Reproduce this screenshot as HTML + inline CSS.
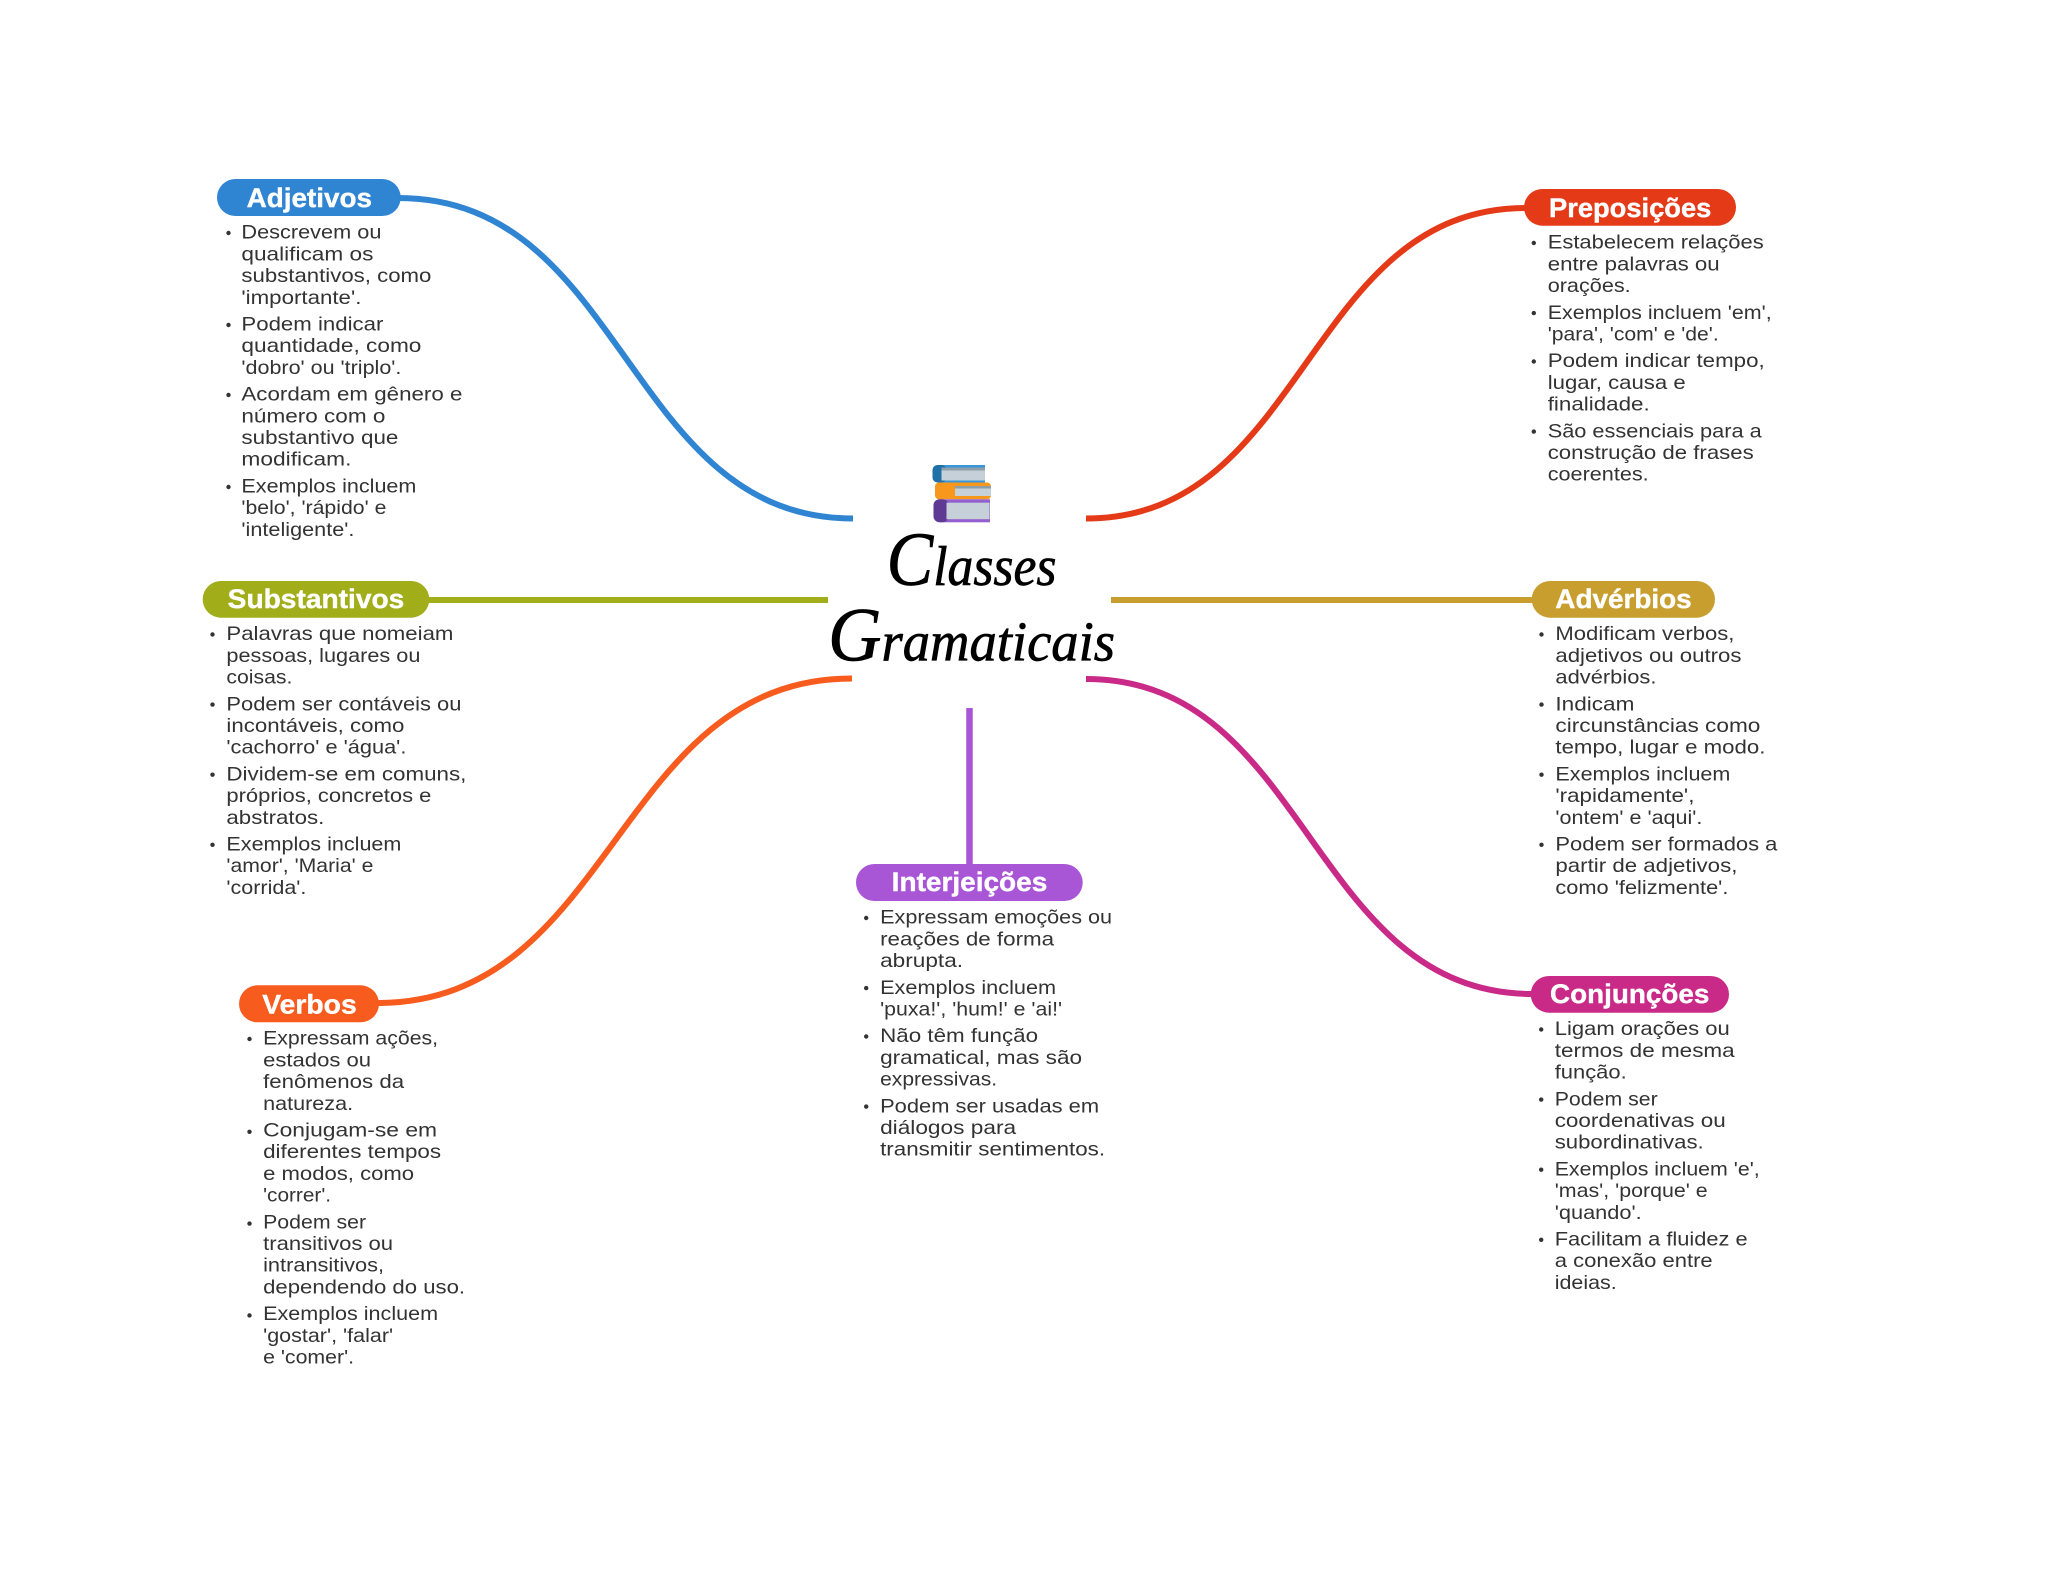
<!DOCTYPE html>
<html lang="pt"><head><meta charset="utf-8"><title>Classes Gramaticais</title>
<style>
html,body{margin:0;padding:0;background:#fff;width:2048px;height:1569px;overflow:hidden}
svg{display:block}
.t{font-family:"Liberation Sans",sans-serif;font-size:19.5px;fill:#333;transform:translate(-.6px,-.3px)}
.p{font-family:"Liberation Sans",sans-serif;font-size:27px;font-weight:700;fill:#fff;stroke:#fff;stroke-width:.4px;transform:translateY(1.2px)}
.h{font-family:"Liberation Serif",serif;font-style:italic;fill:#000;stroke:#000;stroke-width:.7px}
.c{fill:none;stroke-width:6}
</style></head><body>
<svg xmlns="http://www.w3.org/2000/svg" width="2048" height="1569" viewBox="0 0 2048 1569">
<rect width="2048" height="1569" fill="#fff"/>
<path class="c" stroke="#3085d3" d="M398 198C626 198 626 518.500 853 518.500"/>
<path class="c" stroke="#e53a18" d="M1526 208C1306 208 1306 518.500 1086 518.500"/>
<path class="c" stroke="#a2ad1a" d="M427 600H828"/>
<path class="c" stroke="#c89f2e" d="M1111 600H1534"/>
<path class="c" stroke="#f85b1e" d="M377 1003C615 1003 615 678.500 852 678.500"/>
<path class="c" stroke="#c92a87" d="M1533 994C1309 994 1309 679 1086 679"/>
<path class="c" stroke="#a855d6" style="stroke-width:6.500" d="M969.500 708V866"/>

<g>
<rect x="937" y="465" width="48" height="17.500" fill="#3a96dc"/><rect x="932.500" y="465" width="14" height="17.500" rx="5" fill="#1f6fa8"/><rect x="941.500" y="467.500" width="43.500" height="13" fill="#c5d0d8"/><rect x="941.500" y="467.500" width="43.500" height="3" fill="#8c9ea8"/>
<rect x="935" y="482.500" width="56" height="16.800" rx="4" fill="#f7981d"/><rect x="955" y="486" width="36" height="10" fill="#c5d0d8"/><rect x="955" y="486" width="36" height="2.500" fill="#8c9ea8"/>
<rect x="940" y="499.300" width="50" height="23" fill="#9460cf"/><rect x="933.500" y="499.300" width="15" height="23" rx="6" fill="#5e3a94"/><rect x="946.500" y="502.700" width="43" height="16.500" fill="#c5d0d8"/>
</g>

<text class="h" y="585" x="886.500" textLength="170" lengthAdjust="spacingAndGlyphs"><tspan font-size="76">C</tspan><tspan font-size="56">lasses</tspan></text>
<text class="h" y="660.500" x="828" textLength="287" lengthAdjust="spacingAndGlyphs"><tspan font-size="76">G</tspan><tspan font-size="56">ramaticais</tspan></text>

<rect x="217" y="179" width="183.700" height="37" rx="18.500" fill="#3085d3"/>
<text class="p" x="246.700" y="205.700" textLength="125.300" lengthAdjust="spacingAndGlyphs">Adjetivos</text>
<rect x="202.700" y="581" width="226.600" height="36.700" rx="18.300" fill="#a2ad1a"/>
<text class="p" x="227.700" y="606.700" textLength="176.600" lengthAdjust="spacingAndGlyphs">Substantivos</text>
<rect x="239" y="985.300" width="140" height="37" rx="18.500" fill="#f85b1e"/>
<text class="p" x="262.300" y="1012.300" textLength="94.400" lengthAdjust="spacingAndGlyphs">Verbos</text>
<rect x="1524" y="189" width="212" height="36.700" rx="18.300" fill="#e53a18"/>
<text class="p" x="1549" y="215.700" textLength="162.300" lengthAdjust="spacingAndGlyphs">Preposições</text>
<rect x="1531.700" y="581" width="183.300" height="36.700" rx="18.300" fill="#c89f2e"/>
<text class="p" x="1555.300" y="606.700" textLength="136.400" lengthAdjust="spacingAndGlyphs">Advérbios</text>
<rect x="1530.700" y="976" width="198.300" height="36.700" rx="18.300" fill="#c92a87"/>
<text class="p" x="1550" y="1001.700" textLength="159.300" lengthAdjust="spacingAndGlyphs">Conjunções</text>
<rect x="856" y="864" width="226.700" height="37" rx="18.500" fill="#a855d6"/>
<text class="p" x="891.700" y="890" textLength="155.600" lengthAdjust="spacingAndGlyphs">Interjeições</text>

<g fill="#333">
<circle cx="228.500" cy="233" r="2.200"/><circle cx="228.500" cy="325" r="2.200"/><circle cx="228.500" cy="395" r="2.200"/><circle cx="228.500" cy="487" r="2.200"/>
<circle cx="212.500" cy="634.500" r="2.200"/><circle cx="212.500" cy="704.600" r="2.200"/><circle cx="212.500" cy="774.700" r="2.200"/><circle cx="212.500" cy="844.800" r="2.200"/>
<circle cx="249.500" cy="1039" r="2.200"/><circle cx="249.500" cy="1131.800" r="2.200"/><circle cx="249.500" cy="1223.600" r="2.200"/><circle cx="249.500" cy="1315.400" r="2.200"/>
<circle cx="1533.800" cy="243" r="2.200"/><circle cx="1533.800" cy="313.100" r="2.200"/><circle cx="1533.800" cy="361.500" r="2.200"/><circle cx="1533.800" cy="431.600" r="2.200"/>
<circle cx="1541.500" cy="634.500" r="2.200"/><circle cx="1541.500" cy="704.600" r="2.200"/><circle cx="1541.500" cy="774.700" r="2.200"/><circle cx="1541.500" cy="844.800" r="2.200"/>
<circle cx="1541.200" cy="1029.500" r="2.200"/><circle cx="1541.200" cy="1099.600" r="2.200"/><circle cx="1541.200" cy="1169.700" r="2.200"/><circle cx="1541.200" cy="1239.800" r="2.200"/>
<circle cx="866.200" cy="918" r="2.200"/><circle cx="866.200" cy="988.100" r="2.200"/><circle cx="866.200" cy="1036.500" r="2.200"/><circle cx="866.200" cy="1106.600" r="2.200"/>
</g>

<g>
<text class="t" lengthAdjust="spacingAndGlyphs" x="242" y="239" textLength="140">Descrevem ou</text>
<text class="t" lengthAdjust="spacingAndGlyphs" x="242" y="260.700" textLength="132">qualificam os</text>
<text class="t" lengthAdjust="spacingAndGlyphs" x="242" y="282.400" textLength="190">substantivos, como</text>
<text class="t" lengthAdjust="spacingAndGlyphs" x="242" y="304.100" textLength="120">'importante'.</text>
<text class="t" lengthAdjust="spacingAndGlyphs" x="242" y="330.800" textLength="142">Podem indicar</text>
<text class="t" lengthAdjust="spacingAndGlyphs" x="242" y="352.500" textLength="180">quantidade, como</text>
<text class="t" lengthAdjust="spacingAndGlyphs" x="242" y="374.200" textLength="160">'dobro' ou 'triplo'.</text>
<text class="t" lengthAdjust="spacingAndGlyphs" x="242" y="400.900" textLength="221">Acordam em gênero e</text>
<text class="t" lengthAdjust="spacingAndGlyphs" x="242" y="422.600" textLength="144">número com o</text>
<text class="t" lengthAdjust="spacingAndGlyphs" x="242" y="444.300" textLength="157">substantivo que</text>
<text class="t" lengthAdjust="spacingAndGlyphs" x="242" y="466" textLength="110">modificam.</text>
<text class="t" lengthAdjust="spacingAndGlyphs" x="242" y="492.700" textLength="175">Exemplos incluem</text>
<text class="t" lengthAdjust="spacingAndGlyphs" x="242" y="514.400" textLength="145">'belo', 'rápido' e</text>
<text class="t" lengthAdjust="spacingAndGlyphs" x="242" y="536.100" textLength="113">'inteligente'.</text>

<text class="t" lengthAdjust="spacingAndGlyphs" x="227" y="640.500" textLength="227">Palavras que nomeiam</text>
<text class="t" lengthAdjust="spacingAndGlyphs" x="227" y="662.200" textLength="194">pessoas, lugares ou</text>
<text class="t" lengthAdjust="spacingAndGlyphs" x="227" y="683.900" textLength="66">coisas.</text>
<text class="t" lengthAdjust="spacingAndGlyphs" x="227" y="710.600" textLength="235">Podem ser contáveis ou</text>
<text class="t" lengthAdjust="spacingAndGlyphs" x="227" y="732.300" textLength="178">incontáveis, como</text>
<text class="t" lengthAdjust="spacingAndGlyphs" x="227" y="754" textLength="180">'cachorro' e 'água'.</text>
<text class="t" lengthAdjust="spacingAndGlyphs" x="227" y="780.700" textLength="240">Dividem-se em comuns,</text>
<text class="t" lengthAdjust="spacingAndGlyphs" x="227" y="802.400" textLength="205">próprios, concretos e</text>
<text class="t" lengthAdjust="spacingAndGlyphs" x="227" y="824.100" textLength="98">abstratos.</text>
<text class="t" lengthAdjust="spacingAndGlyphs" x="227" y="850.800" textLength="175">Exemplos incluem</text>
<text class="t" lengthAdjust="spacingAndGlyphs" x="227" y="872.500" textLength="147">'amor', 'Maria' e</text>
<text class="t" lengthAdjust="spacingAndGlyphs" x="227" y="894.200" textLength="80">'corrida'.</text>

<text class="t" lengthAdjust="spacingAndGlyphs" x="263.700" y="1045" textLength="175">Expressam ações,</text>
<text class="t" lengthAdjust="spacingAndGlyphs" x="263.700" y="1066.700" textLength="108">estados ou</text>
<text class="t" lengthAdjust="spacingAndGlyphs" x="263.700" y="1088.400" textLength="141">fenômenos da</text>
<text class="t" lengthAdjust="spacingAndGlyphs" x="263.700" y="1110.100" textLength="90">natureza.</text>
<text class="t" lengthAdjust="spacingAndGlyphs" x="263.700" y="1136.800" textLength="174">Conjugam-se em</text>
<text class="t" lengthAdjust="spacingAndGlyphs" x="263.700" y="1158.500" textLength="178">diferentes tempos</text>
<text class="t" lengthAdjust="spacingAndGlyphs" x="263.700" y="1180.200" textLength="151">e modos, como</text>
<text class="t" lengthAdjust="spacingAndGlyphs" x="263.700" y="1201.900" textLength="68">'correr'.</text>
<text class="t" lengthAdjust="spacingAndGlyphs" x="263.700" y="1228.600" textLength="103">Podem ser</text>
<text class="t" lengthAdjust="spacingAndGlyphs" x="263.700" y="1250.300" textLength="130">transitivos ou</text>
<text class="t" lengthAdjust="spacingAndGlyphs" x="263.700" y="1272" textLength="121">intransitivos,</text>
<text class="t" lengthAdjust="spacingAndGlyphs" x="263.700" y="1293.700" textLength="202">dependendo do uso.</text>
<text class="t" lengthAdjust="spacingAndGlyphs" x="263.700" y="1320.400" textLength="175">Exemplos incluem</text>
<text class="t" lengthAdjust="spacingAndGlyphs" x="263.700" y="1342.100" textLength="130">'gostar', 'falar'</text>
<text class="t" lengthAdjust="spacingAndGlyphs" x="263.700" y="1363.800" textLength="91">e 'comer'.</text>

<text class="t" lengthAdjust="spacingAndGlyphs" x="1548.300" y="249" textLength="216">Estabelecem relações</text>
<text class="t" lengthAdjust="spacingAndGlyphs" x="1548.300" y="270.700" textLength="172">entre palavras ou</text>
<text class="t" lengthAdjust="spacingAndGlyphs" x="1548.300" y="292.400" textLength="83">orações.</text>
<text class="t" lengthAdjust="spacingAndGlyphs" x="1548.300" y="319.100" textLength="224">Exemplos incluem 'em',</text>
<text class="t" lengthAdjust="spacingAndGlyphs" x="1548.300" y="340.800" textLength="171">'para', 'com' e 'de'.</text>
<text class="t" lengthAdjust="spacingAndGlyphs" x="1548.300" y="367.500" textLength="217">Podem indicar tempo,</text>
<text class="t" lengthAdjust="spacingAndGlyphs" x="1548.300" y="389.200" textLength="138">lugar, causa e</text>
<text class="t" lengthAdjust="spacingAndGlyphs" x="1548.300" y="410.900" textLength="102">finalidade.</text>
<text class="t" lengthAdjust="spacingAndGlyphs" x="1548.300" y="437.600" textLength="214">São essenciais para a</text>
<text class="t" lengthAdjust="spacingAndGlyphs" x="1548.300" y="459.300" textLength="206">construção de frases</text>
<text class="t" lengthAdjust="spacingAndGlyphs" x="1548.300" y="481" textLength="101">coerentes.</text>

<text class="t" lengthAdjust="spacingAndGlyphs" x="1556" y="640.500" textLength="179">Modificam verbos,</text>
<text class="t" lengthAdjust="spacingAndGlyphs" x="1556" y="662.200" textLength="186">adjetivos ou outros</text>
<text class="t" lengthAdjust="spacingAndGlyphs" x="1556" y="683.900" textLength="101">advérbios.</text>
<text class="t" lengthAdjust="spacingAndGlyphs" x="1556" y="710.600" textLength="79">Indicam</text>
<text class="t" lengthAdjust="spacingAndGlyphs" x="1556" y="732.300" textLength="205">circunstâncias como</text>
<text class="t" lengthAdjust="spacingAndGlyphs" x="1556" y="754" textLength="210">tempo, lugar e modo.</text>
<text class="t" lengthAdjust="spacingAndGlyphs" x="1556" y="780.700" textLength="175">Exemplos incluem</text>
<text class="t" lengthAdjust="spacingAndGlyphs" x="1556" y="802.400" textLength="139">'rapidamente',</text>
<text class="t" lengthAdjust="spacingAndGlyphs" x="1556" y="824.100" textLength="147">'ontem' e 'aqui'.</text>
<text class="t" lengthAdjust="spacingAndGlyphs" x="1556" y="850.800" textLength="222">Podem ser formados a</text>
<text class="t" lengthAdjust="spacingAndGlyphs" x="1556" y="872.500" textLength="182">partir de adjetivos,</text>
<text class="t" lengthAdjust="spacingAndGlyphs" x="1556" y="894.200" textLength="173">como 'felizmente'.</text>

<text class="t" lengthAdjust="spacingAndGlyphs" x="1555.300" y="1035.500" textLength="175">Ligam orações ou</text>
<text class="t" lengthAdjust="spacingAndGlyphs" x="1555.300" y="1057.200" textLength="180">termos de mesma</text>
<text class="t" lengthAdjust="spacingAndGlyphs" x="1555.300" y="1078.900" textLength="72">função.</text>
<text class="t" lengthAdjust="spacingAndGlyphs" x="1555.300" y="1105.600" textLength="103">Podem ser</text>
<text class="t" lengthAdjust="spacingAndGlyphs" x="1555.300" y="1127.300" textLength="171">coordenativas ou</text>
<text class="t" lengthAdjust="spacingAndGlyphs" x="1555.300" y="1149" textLength="149">subordinativas.</text>
<text class="t" lengthAdjust="spacingAndGlyphs" x="1555.300" y="1175.700" textLength="205">Exemplos incluem 'e',</text>
<text class="t" lengthAdjust="spacingAndGlyphs" x="1555.300" y="1197.400" textLength="153">'mas', 'porque' e</text>
<text class="t" lengthAdjust="spacingAndGlyphs" x="1555.300" y="1219.100" textLength="87">'quando'.</text>
<text class="t" lengthAdjust="spacingAndGlyphs" x="1555.300" y="1245.800" textLength="193">Facilitam a fluidez e</text>
<text class="t" lengthAdjust="spacingAndGlyphs" x="1555.300" y="1267.500" textLength="158">a conexão entre</text>
<text class="t" lengthAdjust="spacingAndGlyphs" x="1555.300" y="1289.200" textLength="62">ideias.</text>

<text class="t" lengthAdjust="spacingAndGlyphs" x="880.700" y="924" textLength="232">Expressam emoções ou</text>
<text class="t" lengthAdjust="spacingAndGlyphs" x="880.700" y="945.700" textLength="174">reações de forma</text>
<text class="t" lengthAdjust="spacingAndGlyphs" x="880.700" y="967.400" textLength="83">abrupta.</text>
<text class="t" lengthAdjust="spacingAndGlyphs" x="880.700" y="994.100" textLength="176">Exemplos incluem</text>
<text class="t" lengthAdjust="spacingAndGlyphs" x="880.700" y="1015.800" textLength="182">'puxa!', 'hum!' e 'ai!'</text>
<text class="t" lengthAdjust="spacingAndGlyphs" x="880.700" y="1042.500" textLength="158">Não têm função</text>
<text class="t" lengthAdjust="spacingAndGlyphs" x="880.700" y="1064.200" textLength="202">gramatical, mas são</text>
<text class="t" lengthAdjust="spacingAndGlyphs" x="880.700" y="1085.900" textLength="117">expressivas.</text>
<text class="t" lengthAdjust="spacingAndGlyphs" x="880.700" y="1112.600" textLength="219">Podem ser usadas em</text>
<text class="t" lengthAdjust="spacingAndGlyphs" x="880.700" y="1134.300" textLength="136">diálogos para</text>
<text class="t" lengthAdjust="spacingAndGlyphs" x="880.700" y="1156" textLength="225">transmitir sentimentos.</text>
</g>
</svg>
</body></html>
